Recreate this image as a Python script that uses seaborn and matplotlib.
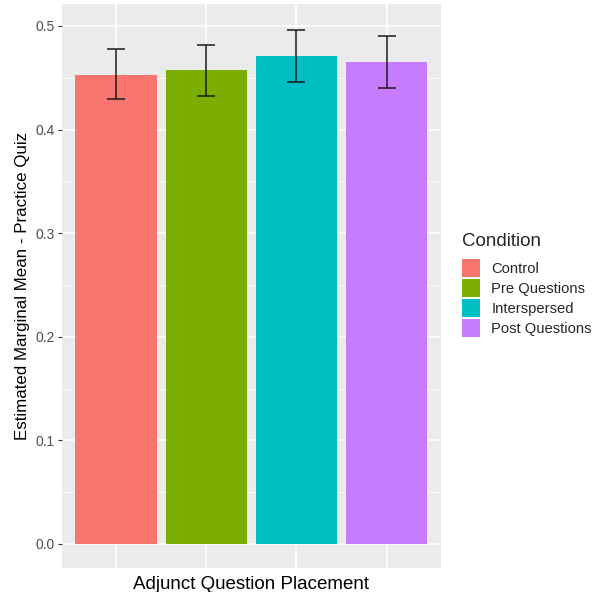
import matplotlib
matplotlib.use("Agg")
import matplotlib.pyplot as plt
import numpy as np
import pandas as pd
import seaborn as sns
from matplotlib.patches import Patch

conditions = ["Control", "Pre Questions", "Interspersed", "Post Questions"]
means = [0.453, 0.457, 0.471, 0.465]
ci_low = [0.429, 0.432, 0.446, 0.440]
ci_high = [0.478, 0.482, 0.496, 0.490]
colors = ["#F8766D", "#7CAE00", "#00BFC4", "#C77CFF"]

df = pd.DataFrame({"Condition": conditions, "emmean": means})

sns.set_theme(style="darkgrid", rc={
    "axes.facecolor": "#EBEBEB",
    "grid.color": "white",
    "axes.edgecolor": "#EBEBEB",
})
plt.rcParams["font.family"] = ["Liberation Sans", "DejaVu Sans"]

fig = plt.figure(figsize=(5.94, 5.92), dpi=100)
ax = fig.add_axes([0.104, 0.041, 0.638, 0.952])

sns.barplot(data=df, x="Condition", y="emmean", hue="Condition",
            order=conditions, hue_order=conditions, palette=colors,
            dodge=False, width=0.9, legend=False, ax=ax, saturation=1,
            zorder=2)
for p in ax.patches:
    p.set_edgecolor("none")

x = np.arange(len(conditions))
ax.errorbar(x, means,
            yerr=[np.array(means) - np.array(ci_low), np.array(ci_high) - np.array(means)],
            fmt="none", ecolor="#1a1a1a", elinewidth=1.1, capsize=6.5, capthick=1.1,
            zorder=3)

ax.set_xlim(-0.6, 3.6)
ax.set_ylim(-0.023, 0.521)
ax.set_yticks([0.0, 0.1, 0.2, 0.3, 0.4, 0.5])
ax.set_yticklabels(["0.0", "0.1", "0.2", "0.3", "0.4", "0.5"])
ax.set_yticks([0.05, 0.15, 0.25, 0.35, 0.45], minor=True)
ax.grid(True, which="major", color="white", linewidth=1.2, zorder=0)
ax.grid(True, which="minor", axis="y", color="white", linewidth=0.6, zorder=0)
ax.set_axisbelow(True)
ax.set_xticks(x)
ax.set_xticklabels([""] * 4)
ax.tick_params(axis="y", which="major", length=3, width=0.8, color="#333333",
               labelsize=10, labelcolor="#4D4D4D", pad=2, left=True)
ax.tick_params(axis="y", which="minor", length=0)
ax.tick_params(axis="x", length=0, pad=0, bottom=False)
for s in ax.spines.values():
    s.set_visible(False)

ax.set_xlabel("Adjunct Question Placement", fontsize=13.5, color="black", labelpad=6)
ax.set_ylabel("Estimated Marginal Mean - Practice Quiz", fontsize=12.2, color="black", labelpad=4)

# legend: title as separate text so the gap below it can match
fig.text(462 / 594, 1 - 242 / 592, "Condition", fontsize=13.5, ha="left", va="center")
handles = [Patch(facecolor=c, edgecolor="none") for c in colors]
fig.legend(handles, conditions, loc="upper left",
           bbox_to_anchor=(462 / 594, 1 - 259 / 592), frameon=False, fontsize=10.6,
           handlelength=1.25, handleheight=1.55, handletextpad=0.75,
           labelspacing=0.1, borderaxespad=0, borderpad=0)

fig.savefig("out.png", dpi=100)
